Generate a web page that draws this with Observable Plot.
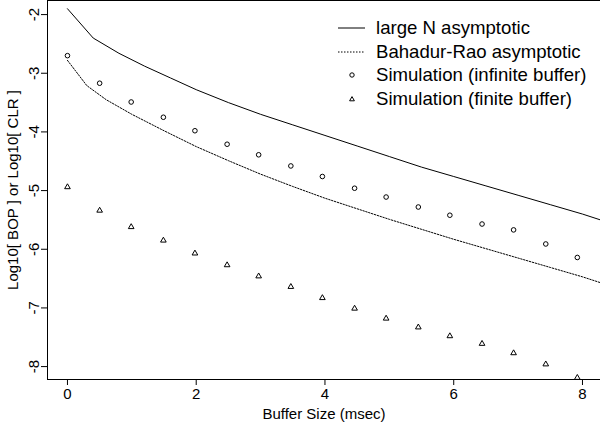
<!DOCTYPE html>
<html><head><meta charset="utf-8">
<script src="https://cdn.jsdelivr.net/npm/d3@7"></script>
<script src="https://cdn.jsdelivr.net/npm/@observablehq/plot@0.6"></script>
<style>
body{margin:0;background:#fff;font-family:"Liberation Sans",Arial,sans-serif;}
#wrap{position:relative;width:600px;height:425px;overflow:hidden;}
#legend{position:absolute;left:336px;top:16px;font-size:18.6px;color:#000;}
.row{display:flex;align-items:center;height:23.7px;white-space:nowrap;}
.row svg{width:30px;height:12px;margin-right:10px;flex:none;}
</style></head><body>
<div id="wrap"><div id="chart"></div><div id="legend"></div></div>
<script>
// Large N asymptotic (solid line)
const largeNX = [0, 0.4, 0.8, 1.2, 1.6, 2.0, 2.5, 3.0, 3.5, 4.0, 4.5, 5.0, 5.5, 6.0, 6.5, 7.0, 7.5, 8.0, 8.28];
const largeN  = [-1.90, -2.40, -2.66, -2.88, -3.08, -3.28, -3.50, -3.70, -3.88, -4.06, -4.24, -4.42, -4.60, -4.76, -4.92, -5.08, -5.24, -5.40, -5.50];
// Bahadur-Rao asymptotic (dotted line)
const bahadurX   = [0, 0.3, 0.6, 1.0, 1.5, 2.0, 2.5, 3.0, 3.5, 4.0, 4.5, 5.0, 5.5, 6.0, 6.5, 7.0, 7.5, 8.0, 8.28];
const bahadurRao = [-2.78, -3.21, -3.45, -3.70, -3.98, -4.25, -4.49, -4.72, -4.93, -5.13, -5.31, -5.49, -5.66, -5.83, -5.99, -6.15, -6.31, -6.47, -6.57];
// Simulations
const simX        = [0, 0.5, 0.99, 1.49, 1.98, 2.48, 2.97, 3.47, 3.96, 4.46, 4.95, 5.45, 5.94, 6.44, 6.93, 7.43, 7.92];
const simInfinite = [-2.70, -3.17, -3.49, -3.75, -3.98, -4.21, -4.39, -4.58, -4.76, -4.96, -5.11, -5.28, -5.42, -5.57, -5.67, -5.91, -6.14];
const simFinite   = [-4.94, -5.34, -5.62, -5.85, -6.07, -6.27, -6.46, -6.64, -6.83, -7.01, -7.18, -7.33, -7.48, -7.61, -7.77, -7.96, -8.19];

const xTicks = [0, 2, 4, 6, 8];
const yTicks = [-2, -3, -4, -5, -6, -7, -8];
const xLabel = "Buffer Size (msec)";
const yLabel = "Log10[ BOP ] or Log10[ CLR ]";
const legendLabels = ["large N asymptotic", "Bahadur-Rao asymptotic", "Simulation (infinite buffer)", "Simulation (finite buffer)"];

const lnData = largeNX.map((x, i) => ({x, y: largeN[i]}));
const brData = bahadurX.map((x, i) => ({x, y: bahadurRao[i]}));
const infData = simX.map((x, i) => ({x, y: simInfinite[i]}));
const finData = simX.map((x, i) => ({x, y: simFinite[i]}));

const chart = Plot.plot({
  width: 600, height: 425,
  marginLeft: 47, marginRight: 0, marginTop: 0, marginBottom: 46,
  style: {fontFamily: "'Liberation Sans', Arial, sans-serif", fontSize: "15px", background: "white", color: "black"},
  x: {domain: [-0.31, 8.28]},
  y: {domain: [-8.22, -1.76]},
  marks: [
    Plot.frame({stroke: "black", strokeWidth: 1}),
    Plot.line(lnData, {x: "x", y: "y", stroke: "black", strokeWidth: 1}),
    Plot.line(brData, {x: "x", y: "y", stroke: "black", strokeWidth: 1, strokeDasharray: "1.5,1.5"}),
    Plot.dot(infData, {x: "x", y: "y", r: 2.3, stroke: "black", strokeWidth: 1, fill: "none"}),
    Plot.dot(finData, {x: "x", y: "y", r: 2.1, symbol: "triangle", stroke: "black", strokeWidth: 1, fill: "none"}),
    Plot.axisX({ticks: xTicks, tickSize: 6, tickPadding: 3, tickFormat: d => String(d),
      label: xLabel, labelAnchor: "center", labelArrow: "none", labelOffset: 39}),
    Plot.axisY({ticks: yTicks, tickSize: 6, tickPadding: 3, tickRotate: -90, tickFormat: d => String(d),
      label: yLabel, labelAnchor: "center", labelArrow: "none", labelOffset: 40})
  ]
});
document.getElementById("chart").appendChild(chart);

// Legend (HTML overlay)
const legend = document.getElementById("legend");
const samples = [
  '<line x1="2" x2="29" y1="6" y2="6" stroke="black" stroke-width="1"/>',
  '<line x1="2" x2="29" y1="6" y2="6" stroke="black" stroke-width="1" stroke-dasharray="1.5,1.5"/>',
  '<circle cx="16" cy="6" r="2.2" fill="none" stroke="black" stroke-width="1"/>',
  '<path d="M16,3.6L18.4,7.8L13.6,7.8Z" fill="none" stroke="black" stroke-width="1"/>'
];
legendLabels.forEach((lab, i) => {
  const row = document.createElement("div");
  row.className = "row";
  row.innerHTML = `<svg viewBox="0 0 30 12">${samples[i]}</svg><span>${lab}</span>`;
  legend.appendChild(row);
});
</script>
</body></html>
